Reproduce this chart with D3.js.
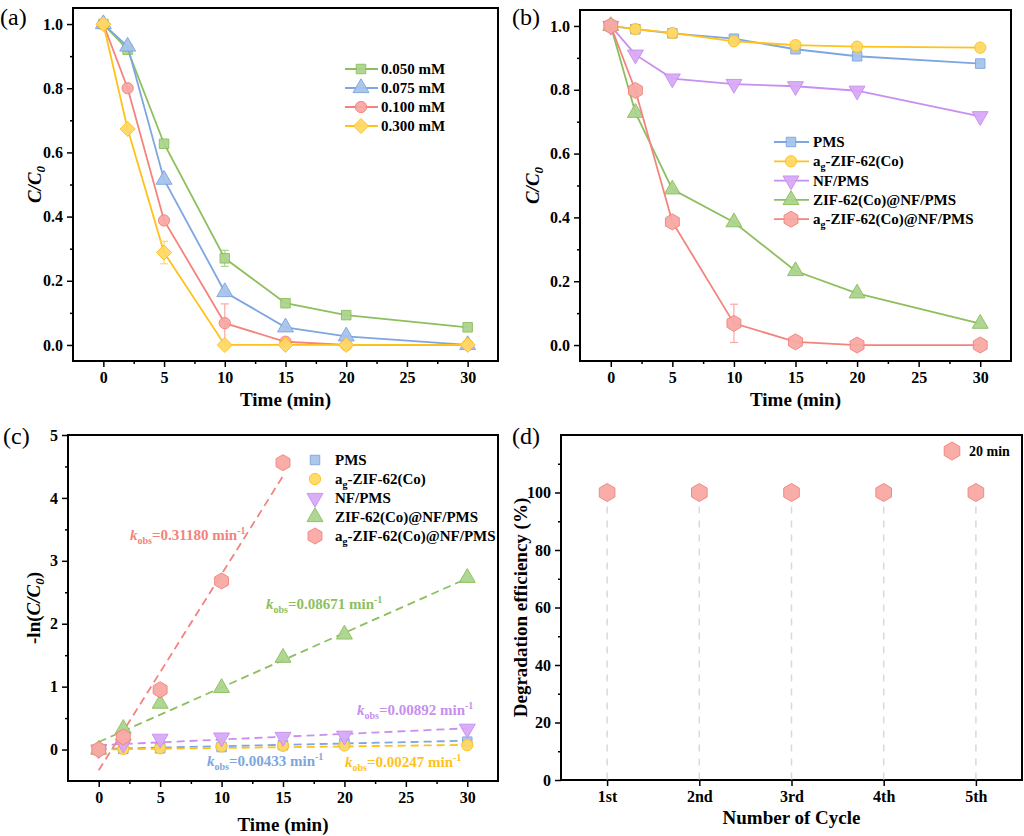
<!DOCTYPE html>
<html>
<head>
<meta charset="utf-8">
<script src="https://cdn.jsdelivr.net/npm/d3@7"></script>
<style>
  body { margin: 0; background: #fff; }
  svg { font-family: "Liberation Serif", "Times New Roman", serif; font-weight: bold; }
</style>
</head>
<body>
<svg id="fig" width="1024" height="836"></svg>
<script>
// ---- data ----
let times = [0, 2, 5, 10, 15, 20, 30];

// (a) dosage series
let concLabels = ["0.050 mM", "0.075 mM", "0.100 mM", "0.300 mM"];
let conc050 = [1.0, 0.92, 0.627, 0.27, 0.13, 0.093, 0.055];
let conc075 = [1.0, 0.93, 0.515, 0.165, 0.055, 0.027, 0.0];
let conc100 = [1.0, 0.80, 0.388, 0.068, 0.01, 0.0, 0.0];
let conc300 = [1.0, 0.673, 0.288, 0.0, 0.0, 0.0, 0.0];
let errA050 = [0, 0, 0, 0.025, 0, 0, 0];
let errA100 = [0, 0, 0, 0.06, 0, 0, 0];
let errA300 = [0, 0, 0.035, 0, 0, 0, 0];

// (b) systems
let sysLabels = ["PMS", "ag-ZIF-62(Co)", "NF/PMS", "ZIF-62(Co)@NF/PMS", "ag-ZIF-62(Co)@NF/PMS"];
let pms = [1.0, 0.99, 0.977, 0.96, 0.927, 0.905, 0.882];
let agZif = [1.0, 0.99, 0.978, 0.952, 0.94, 0.935, 0.932];
let nfPms = [1.0, 0.91, 0.835, 0.818, 0.811, 0.797, 0.717];
let zifNf = [1.0, 0.728, 0.488, 0.385, 0.232, 0.162, 0.067];
let agZifNf = [1.0, 0.798, 0.386, 0.068, 0.01, 0.0, 0.0];
let errAgZifNf = [0, 0, 0, 0.06, 0, 0, 0];

// (c) -ln(C/C0)
let lnPms = [0, 0.01, 0.02, 0.04, 0.07, 0.10, 0.125];
let lnAgZif = [0, 0.01, 0.02, 0.05, 0.06, 0.065, 0.07];
let lnNfPms = [0, 0.09, 0.17, 0.19, 0.20, 0.22, 0.33];
let lnZifNf = [0, 0.33, 0.73, 0.98, 1.46, 1.83, 2.73];
let lnAgZifNf = [0, 0.2, 0.95, 2.68, 4.56];
let kLabels = ["0.00433", "0.00247", "0.00892", "0.08671", "0.31180"];
let kSlopes = [0.00433, 0.00247, 0.00892, 0.08671, 0.31180];
let kIntercepts = [0.01, 0.0, 0.07, 0.12, -0.33];
let fitEnds = [30, 30, 30, 30, 15];

// (d) cycles
let cycles = ["1st", "2nd", "3rd", "4th", "5th"];
let efficiency = [100, 100, 100, 100, 100];

// ---- styles ----
let colGreen = { line: "#8dbf5e", fill: "#acd48f" };
let colBlue = { line: "#7ea6e0", fill: "#a8c4ec" };
let colRed = { line: "#f4837d", fill: "#f8a9a4" };
let colYellow = { line: "#ffc21a", fill: "#ffd966" };
let colPurple = { line: "#c88ff0", fill: "#d8aaf6" };

let svg = d3.select("#fig");

let symbolPath = (type, size) => {
    if (type === "hexagon") {
        let r = size;
        let pts = d3.range(6).map(i => {
            let a = Math.PI / 3 * i - Math.PI / 2;
            return [r * Math.cos(a), r * Math.sin(a)];
        });
        return "M" + pts.join("L") + "Z";
    }
    if (type === "diamond") {
        let r = size;
        return "M0," + (-r) + "L" + r + ",0L0," + r + "L" + (-r) + ",0Z";
    }
    let map = {
        square: d3.symbolSquare, triangle: d3.symbolTriangle,
        triangleDown: d3.symbolTriangle, circle: d3.symbolCircle
    };
    return d3.symbol().type(map[type]).size(size)();
};

let markerSize = { square: 90, triangle: 110, triangleDown: 110, circle: 100, diamond: 7.5, hexagon: 8 };

let drawMarker = (g, x, y, type, col, sz) => {
    let p = g.append("path")
        .attr("d", symbolPath(type, sz || markerSize[type]))
        .attr("fill", col.fill)
        .attr("stroke", col.line)
        .attr("stroke-width", 1)
        .attr("opacity", 0.95);
    let t = "translate(" + x + "," + y + ")";
    if (type === "triangleDown") t += " rotate(180)";
    p.attr("transform", t);
    return p;
};

// frame, axes, minor ticks
let makePanel = (opt) => {
    let g = svg.append("g");
    let x = opt.x, y = opt.y;
    let [x0, x1] = x.range();
    let [y0, y1] = y.range();

    let xAxis = opt.xAxis.tickSize(6).tickPadding(5);
    let yAxis = d3.axisLeft(y).tickValues(opt.yTicks).tickFormat(opt.yFormat).tickSize(6).tickPadding(4);

    let gx = g.append("g").attr("transform", "translate(0," + y0 + ")").call(xAxis);
    let gy = g.append("g").attr("transform", "translate(" + x0 + ",0)").call(yAxis);
    [gx, gy].forEach(a => {
        a.select(".domain").remove();
        a.selectAll(".tick line").attr("stroke", "#000").attr("stroke-width", 1.5);
        a.selectAll("text").attr("fill", "#000").attr("font-size", 16)
            .attr("font-family", "Liberation Serif").attr("font-weight", "bold");
    });

    if (opt.xMinor) {
        let m = g.append("g").attr("transform", "translate(0," + y0 + ")")
            .call(d3.axisBottom(x).tickValues(opt.xMinor).tickSize(3).tickFormat(""));
        m.select(".domain").remove();
        m.selectAll("line").attr("stroke-width", 1.5);
    }
    if (opt.yMinor) {
        let m = g.append("g").attr("transform", "translate(" + x0 + ",0)")
            .call(d3.axisLeft(y).tickValues(opt.yMinor).tickSize(3).tickFormat(""));
        m.select(".domain").remove();
        m.selectAll("line").attr("stroke-width", 1.5);
    }

    g.append("rect")
        .attr("x", x0).attr("y", y1)
        .attr("width", x1 - x0).attr("height", y0 - y1)
        .attr("fill", "none").attr("stroke", "#000").attr("stroke-width", 2);

    // panel letter
    g.append("text").attr("x", opt.tag[0]).attr("y", opt.tag[1])
        .attr("font-weight", "normal").attr("font-size", 24).text(opt.tag[2]);

    // x title
    g.append("text").attr("x", (x0 + x1) / 2).attr("y", opt.xTitleY)
        .attr("text-anchor", "middle").attr("font-size", 19).text(opt.xTitle);

    let yt = g.append("text")
        .attr("transform", "translate(" + opt.yTitleX + "," + (y0 + y1) / 2 + ") rotate(-90)")
        .attr("text-anchor", "middle").attr("font-size", 19);
    opt.yTitle(yt);

    let plot = g.append("g");
    return plot;
};

let titleC = (t) => {
    t.append("tspan").attr("font-style", "italic").text("C/C");
    t.append("tspan").attr("font-style", "italic").attr("font-size", 13).attr("dy", 4).text("0");
};

let legendLabel = (t, label) => {
    if (label.startsWith("ag")) {
        t.append("tspan").text("a");
        t.append("tspan").attr("font-size", 10).attr("dy", 4).text("g");
        t.append("tspan").attr("dy", -4).text(label.slice(2));
    } else {
        t.text(label);
    }
};

let drawSeries = (plot, x, y, vals, type, col, errs) => {
    let pts = vals.map((v, i) => [times[i], v]);
    plot.append("path")
        .datum(pts)
        .attr("fill", "none")
        .attr("stroke", col.line)
        .attr("stroke-width", 1.8)
        .attr("d", d3.line().x(d => x(d[0])).y(d => y(d[1])));
    if (errs) {
        errs.forEach((e, i) => {
            if (!e) return;
            let cx = x(times[i]);
            let ya = y(vals[i] + e), yb = y(vals[i] - e);
            let eg = plot.append("g").attr("stroke", col.fill).attr("stroke-width", 1.2);
            eg.append("line").attr("x1", cx).attr("x2", cx).attr("y1", ya).attr("y2", yb);
            eg.append("line").attr("x1", cx - 4).attr("x2", cx + 4).attr("y1", ya).attr("y2", ya);
            eg.append("line").attr("x1", cx - 4).attr("x2", cx + 4).attr("y1", yb).attr("y2", yb);
        });
    }
    pts.forEach(d => drawMarker(plot, x(d[0]), y(d[1]), type, col));
};

// ---------- (a) ----------
createPanelA = () => {
    let x = d3.scaleLinear().domain([-2.5, 32.5]).range([73, 498]);
    let y = d3.scaleLinear().domain([-0.05, 1.05]).range([361, 8]);
    let plot = makePanel({
        x: x, y: y,
        xAxis: d3.axisBottom(x).tickValues([0, 5, 10, 15, 20, 25, 30]),
        yTicks: [0, 0.2, 0.4, 0.6, 0.8, 1.0], yFormat: d3.format(".1f"),
        xMinor: [2.5, 7.5, 12.5, 17.5, 22.5, 27.5], yMinor: [0.1, 0.3, 0.5, 0.7, 0.9],
        tag: [0, 25, "(a)"], xTitle: "Time (min)", xTitleY: 406, yTitleX: 41, yTitle: titleC
    });
    let series = [
        [conc050, "square", colGreen, errA050],
        [conc075, "triangle", colBlue, null],
        [conc100, "circle", colRed, errA100],
        [conc300, "diamond", colYellow, errA300]
    ];
    series.forEach(s => drawSeries(plot, x, y, s[0], s[1], s[2], s[3]));

    let lg = plot.append("g");
    concLabels.forEach((lab, i) => {
        let ly = 69 + i * 19;
        lg.append("line").attr("x1", 345).attr("x2", 378).attr("y1", ly).attr("y2", ly)
            .attr("stroke", series[i][2].line).attr("stroke-width", 1.8);
        drawMarker(lg, 361, ly, series[i][1], series[i][2]);
        lg.append("text").attr("x", 381).attr("y", ly + 5).attr("font-size", 15).text(lab);
    });
};

// ---------- (b) ----------
createPanelB = () => {
    let x = d3.scaleLinear().domain([-2.5, 32.5]).range([580, 1011]);
    let y = d3.scaleLinear().domain([-0.05, 1.05]).range([361, 10]);
    let plot = makePanel({
        x: x, y: y,
        xAxis: d3.axisBottom(x).tickValues([0, 5, 10, 15, 20, 25, 30]),
        yTicks: [0, 0.2, 0.4, 0.6, 0.8, 1.0], yFormat: d3.format(".1f"),
        xMinor: [2.5, 7.5, 12.5, 17.5, 22.5, 27.5], yMinor: [0.1, 0.3, 0.5, 0.7, 0.9],
        tag: [512, 25, "(b)"], xTitle: "Time (min)", xTitleY: 406, yTitleX: 539, yTitle: titleC
    });
    let series = [
        [pms, "square", colBlue, null],
        [agZif, "circle", colYellow, null],
        [nfPms, "triangleDown", colPurple, null],
        [zifNf, "triangle", colGreen, null],
        [agZifNf, "hexagon", colRed, errAgZifNf]
    ];
    series.forEach(s => drawSeries(plot, x, y, s[0], s[1], s[2], s[3]));

    let lg = plot.append("g");
    sysLabels.forEach((lab, i) => {
        let ly = 142 + i * 19.3;
        lg.append("line").attr("x1", 774).attr("x2", 809).attr("y1", ly).attr("y2", ly)
            .attr("stroke", series[i][2].line).attr("stroke-width", 1.8);
        drawMarker(lg, 791, ly, series[i][1], series[i][2]);
        let t = lg.append("text").attr("x", 813).attr("y", ly + 5).attr("font-size", 15);
        legendLabel(t, lab);
    });
};

// ---------- (c) ----------
createPanelC = () => {
    let x = d3.scaleLinear().domain([-2.5, 32.5]).range([68, 498]);
    let y = d3.scaleLinear().domain([-0.5, 5]).range([781, 435]);
    let plot = makePanel({
        x: x, y: y,
        xAxis: d3.axisBottom(x).tickValues([0, 5, 10, 15, 20, 25, 30]),
        yTicks: [0, 1, 2, 3, 4, 5], yFormat: d3.format("d"),
        xMinor: [2.5, 7.5, 12.5, 17.5, 22.5, 27.5], yMinor: [0.5, 1.5, 2.5, 3.5, 4.5],
        tag: [3, 444, "(c)"], xTitle: "Time (min)", xTitleY: 831, yTitleX: 40,
        yTitle: (t) => {
            t.append("tspan").text("-ln(");
            t.append("tspan").attr("font-style", "italic").text("C/C");
            t.append("tspan").attr("font-style", "italic").attr("font-size", 13).attr("dy", 4).text("0");
            t.append("tspan").attr("dy", -4).text(")");
        }
    });
    let series = [
        [lnPms, "square", colBlue],
        [lnAgZif, "circle", colYellow],
        [lnNfPms, "triangleDown", colPurple],
        [lnZifNf, "triangle", colGreen],
        [lnAgZifNf, "hexagon", colRed]
    ];
    // fit lines
    series.forEach((s, i) => {
        let fit = [0, fitEnds[i]].map(t => [t, kIntercepts[i] + kSlopes[i] * t]);
        plot.append("path").datum(fit)
            .attr("fill", "none").attr("stroke", s[2].line).attr("stroke-width", 1.8)
            .attr("stroke-dasharray", "8,5")
            .attr("d", d3.line().x(d => x(d[0])).y(d => y(d[1])));
    });
    series.forEach(s => {
        s[0].forEach((v, i) => drawMarker(plot, x(times[i]), y(v), s[1], s[2]));
    });

    // k_obs annotations
    let kPos = [[207, 766], [345, 767], [357, 715], [266, 609], [130, 540]];
    kLabels.forEach((k, i) => {
        let t = plot.append("text").attr("x", kPos[i][0]).attr("y", kPos[i][1])
            .attr("font-size", 15).attr("fill", series[i][2].line);
        t.append("tspan").attr("font-style", "italic").text("k");
        t.append("tspan").attr("font-size", 10).attr("dy", 4).text("obs");
        t.append("tspan").attr("dy", -4).text("=" + k + " min");
        t.append("tspan").attr("font-size", 10).attr("dy", -6).text("-1");
    });

    let lg = plot.append("g");
    sysLabels.forEach((lab, i) => {
        let ly = 460 + i * 19;
        drawMarker(lg, 315, ly, series[i][1], series[i][2]);
        let t = lg.append("text").attr("x", 335).attr("y", ly + 5).attr("font-size", 15);
        legendLabel(t, lab);
    });
};

// ---------- (d) ----------
createPanelD = () => {
    let x = d3.scaleLinear().domain([0.5, 5.5]).range([561, 1022]);
    let y = d3.scaleLinear().domain([0, 120]).range([780, 435]);
    let idx = cycles.map((c, i) => i + 1);
    let plot = makePanel({
        x: x, y: y,
        xAxis: d3.axisBottom(x).tickValues(idx).tickFormat(d => cycles[d - 1]),
        yTicks: [0, 20, 40, 60, 80, 100], yFormat: d3.format("d"),
        xMinor: null, yMinor: [10, 30, 50, 70, 90, 110],
        tag: [512, 444, "(d)"], xTitle: "Number of Cycle", xTitleY: 824, yTitleX: 527,
        yTitle: (t) => t.text("Degradation efficiency (%)")
    });
    efficiency.forEach((v, i) => {
        plot.append("line")
            .attr("x1", x(i + 1)).attr("x2", x(i + 1))
            .attr("y1", y(v)).attr("y2", y(0))
            .attr("stroke", "#d9d9d9").attr("stroke-width", 1.5)
            .attr("stroke-dasharray", "7,7");
    });
    efficiency.forEach((v, i) => drawMarker(plot, x(i + 1), y(v), "hexagon", colRed, 9));

    drawMarker(plot, 952, 451, "hexagon", colRed, 9);
    plot.append("text").attr("x", 969).attr("y", 456).attr("font-size", 14).text("20 min");
};

createPanelA();
createPanelB();
createPanelC();
createPanelD();
</script>
</body>
</html>
